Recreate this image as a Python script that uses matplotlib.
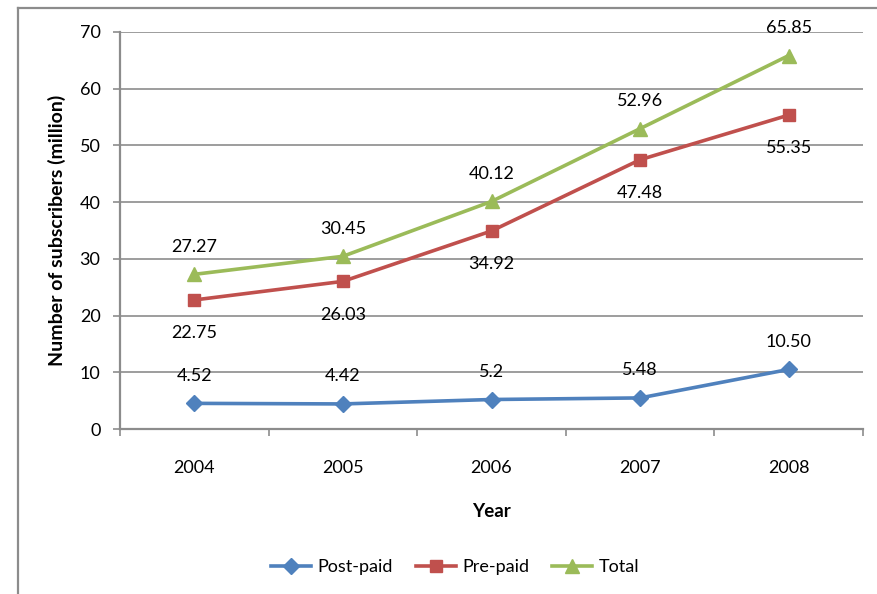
import matplotlib
matplotlib.use("Agg")
import matplotlib.pyplot as plt
from matplotlib.lines import Line2D

plt.rcParams['font.family'] = ['Lato', 'DejaVu Sans']

years = ["2004", "2005", "2006", "2007", "2008"]
post_paid = [4.52, 4.42, 5.2, 5.48, 10.50]
pre_paid = [22.75, 26.03, 34.92, 47.48, 55.35]
total = [27.27, 30.45, 40.12, 52.96, 65.85]
post_labels = ["4.52", "4.42", "5.2", "5.48", "10.50"]
pre_labels = ["22.75", "26.03", "34.92", "47.48", "55.35"]
total_labels = ["27.27", "30.45", "40.12", "52.96", "65.85"]
y_ticks = [0, 10, 20, 30, 40, 50, 60, 70]

fig = plt.figure(figsize=(8.78, 5.94), dpi=100)
ax = fig.add_axes([120/878, 1-429/594, (863-120)/878, (429-32)/594])

# outer chart border (left and top visible)
grey = "#8c8c8c"
fig.add_artist(Line2D([18/878, 18/878], [0, 1-8/594], transform=fig.transFigure, color=grey, lw=1.6))
fig.add_artist(Line2D([18/878, 1], [1-8/594, 1-8/594], transform=fig.transFigure, color=grey, lw=1.6))

x = list(range(len(years)))
blue, red, green = "#4F81BD", "#C0504D", "#9BBB59"
ax.plot(x, post_paid, color=blue, lw=2.6, marker="D", ms=8, label="Post-paid")
ax.plot(x, pre_paid, color=red, lw=2.6, marker="s", ms=9, label="Pre-paid")
ax.plot(x, total, color=green, lw=2.6, marker="^", ms=10, label="Total")

fs = 13
for xi, v, t in zip(x, post_paid, post_labels):
    ax.annotate(t, (xi, v), xytext=(0, 20), textcoords="offset points", ha="center", va="center", fontsize=fs)
for xi, v, t in zip(x, pre_paid, pre_labels):
    ax.annotate(t, (xi, v), xytext=(0, -24), textcoords="offset points", ha="center", va="center", fontsize=fs)
for xi, v, t in zip(x, total, total_labels):
    ax.annotate(t, (xi, v), xytext=(0, 20), textcoords="offset points", ha="center", va="center", fontsize=fs)

ax.set_xlim(-0.5, len(years) - 0.5)
ax.set_ylim(0, 70)
ax.set_yticks(y_ticks)
ax.set_yticklabels([str(t) for t in y_ticks], fontsize=fs)
ax.set_xticks(x)
ax.set_xticklabels(years, fontsize=fs)
ax.set_xticks([i - 0.5 for i in range(len(years) + 1)], minor=True)
ax.tick_params(axis="x", which="major", length=0, pad=22)
ax.tick_params(axis="x", which="minor", length=5, color=grey, width=1.2, direction="out")
ax.tick_params(axis="y", length=5, color=grey, width=1.2, direction="out", pad=9)

ax.yaxis.grid(True, color=grey, lw=1.2)
ax.set_axisbelow(True)
for s in ["top", "right"]:
    ax.spines[s].set_visible(False)
for s in ["left", "bottom"]:
    ax.spines[s].set_color(grey)
    ax.spines[s].set_linewidth(1.6)

ax.set_ylabel("Number of subscribers (million)", fontsize=14, fontweight="bold", labelpad=10)
ax.set_xlabel("Year", fontsize=13.5, fontweight="bold", labelpad=20)

fig.legend(loc="center", bbox_to_anchor=(455/878, 1-567/594), ncol=3, frameon=False,
           fontsize=13, handlelength=2.2, columnspacing=1.3, handletextpad=0.35)

fig.savefig("out.png", dpi=100)
